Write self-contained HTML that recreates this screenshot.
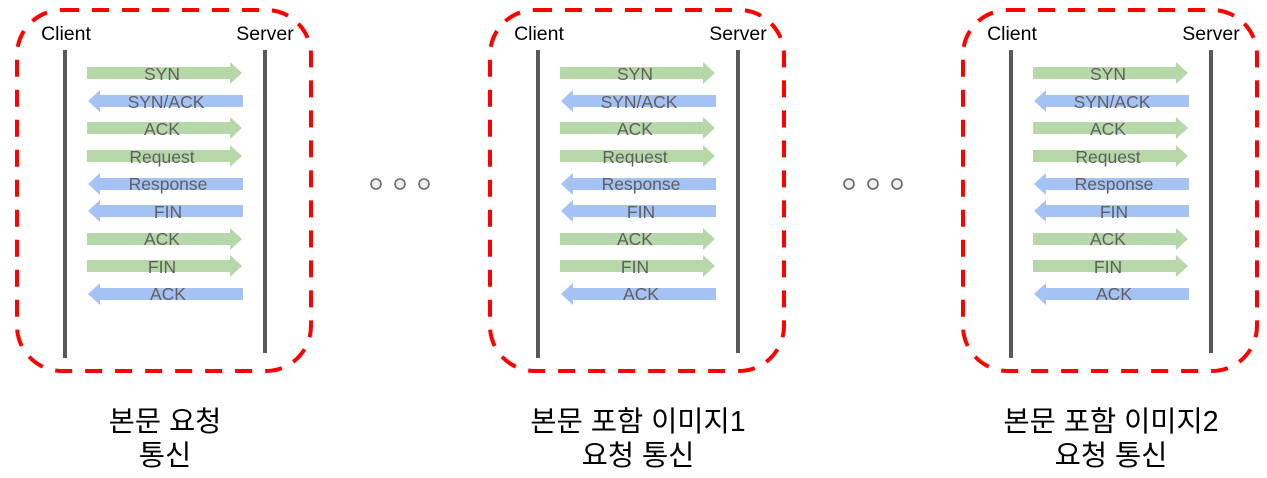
<!DOCTYPE html>
<html><head><meta charset="utf-8"><style>
html,body{margin:0;padding:0;background:#fff;width:1267px;height:478px;overflow:hidden}
svg text{font-family:"Liberation Sans","Noto Sans CJK KR",sans-serif}
</style></head><body>
<svg width="1267" height="478" viewBox="0 0 1267 478" xmlns="http://www.w3.org/2000/svg">
<defs>
<g id="p">
<rect x="17" y="10" width="294" height="361" rx="45" fill="none" stroke="#ff0000" stroke-width="4" stroke-dasharray="17,13"/>
<text x="66" y="40" font-size="19.5" text-anchor="middle" fill="#000">Client</text>
<text x="265" y="40" font-size="19.5" text-anchor="middle" fill="#000">Server</text>
<rect x="63" y="50" width="4" height="308" fill="#595959"/>
<rect x="263" y="50" width="4" height="303" fill="#595959"/>
<g font-size="17.5" fill="#5f5f5f" text-anchor="middle">
<path d="M87 67H230V62L242 73L230 84V79H87Z" fill="#b6d7a8"/><text x="162" y="80">SYN</text>
<path d="M243 95H100V90L88 101L100 112V107H243Z" fill="#a4c2f4"/><text x="166" y="108">SYN/ACK</text>
<path d="M87 122H230V117L242 128L230 139V134H87Z" fill="#b6d7a8"/><text x="162" y="135">ACK</text>
<path d="M87 150H230V145L242 156L230 167V162H87Z" fill="#b6d7a8"/><text x="162" y="163">Request</text>
<path d="M243 178H100V173L88 184L100 195V190H243Z" fill="#a4c2f4"/><text x="168" y="190">Response</text>
<path d="M243 205H100V200L88 211L100 222V217H243Z" fill="#a4c2f4"/><text x="168" y="218">FIN</text>
<path d="M87 233H230V228L242 239L230 250V245H87Z" fill="#b6d7a8"/><text x="162" y="245">ACK</text>
<path d="M87 260H230V255L242 266L230 277V272H87Z" fill="#b6d7a8"/><text x="162" y="273">FIN</text>
<path d="M243 288H100V283L88 294L100 305V300H243Z" fill="#a4c2f4"/><text x="168" y="300">ACK</text>
</g>
</g>
</defs>
<use href="#p"/>
<use href="#p" transform="translate(473,0)"/>
<use href="#p" transform="translate(946,0)"/>
<g fill="#eeeeee" stroke="#666" stroke-width="1.6">
<circle cx="376" cy="184" r="5"/><circle cx="400" cy="184" r="5"/><circle cx="424" cy="184" r="5"/>
<circle cx="849" cy="184" r="5"/><circle cx="873" cy="184" r="5"/><circle cx="897" cy="184" r="5"/>
</g>
<g font-size="28.5" fill="#000" text-anchor="middle">
<text x="165" y="431">본문 요청</text><text x="165" y="465">통신</text>
<text x="638" y="431">본문 포함 이미지1</text><text x="638" y="465">요청 통신</text>
<text x="1111" y="431">본문 포함 이미지2</text><text x="1111" y="465">요청 통신</text>
</g>
</svg>
</body></html>
